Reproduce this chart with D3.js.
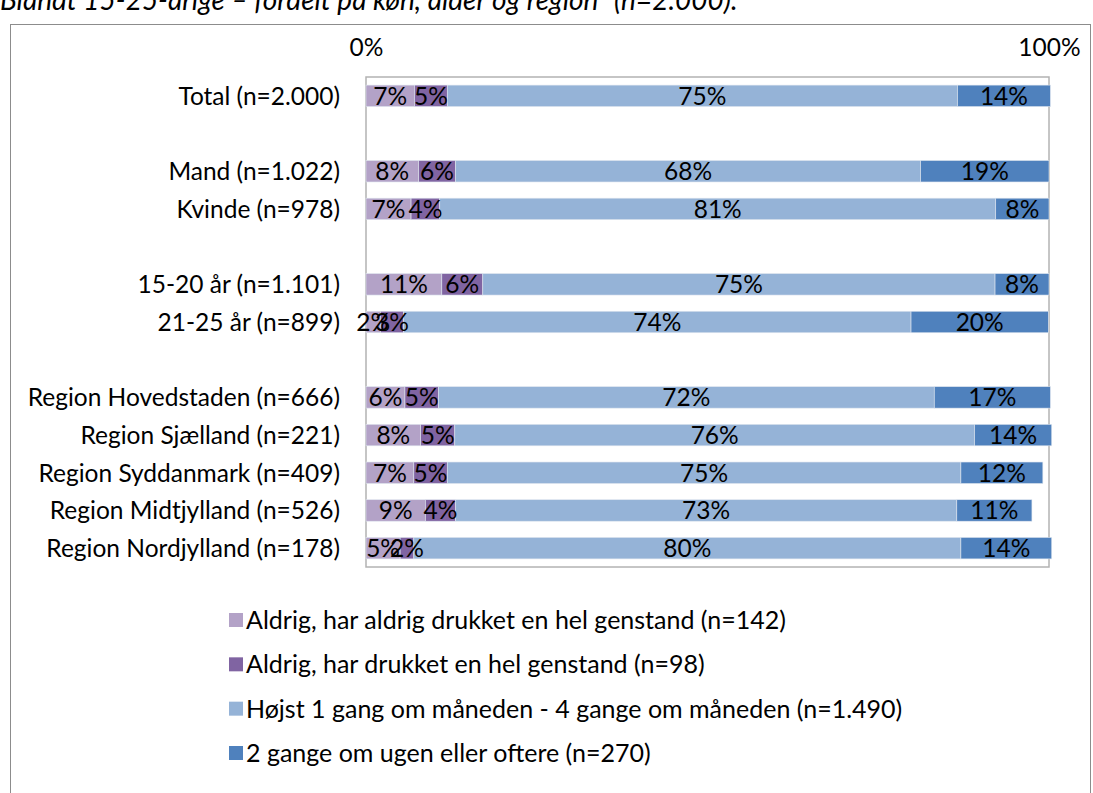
<!DOCTYPE html>
<html>
<head>
<meta charset="utf-8">
<script src="https://cdn.jsdelivr.net/npm/d3@7"></script>
<style>
  html, body { margin: 0; padding: 0; background: #fff; }
  svg { display: block; }
  text { font-family: Lato, "Open Sans", sans-serif; }
</style>
</head>
<body>
<svg id="chart" width="1093" height="793"></svg>
<script>
// ---- data ----
const titleText = "Blandt 15-25-årige – fordelt på køn, alder og region\u201d (n=2.000).";
const categories = ["Total (n=2.000)", "_gap1", "Mand (n=1.022)", "Kvinde (n=978)", "_gap2",
  "15-20 år (n=1.101)", "21-25 år (n=899)", "_gap3",
  "Region Hovedstaden (n=666)", "Region Sjælland (n=221)", "Region Syddanmark (n=409)",
  "Region Midtjylland (n=526)", "Region Nordjylland (n=178)"];
const seriesNames = [
  "Aldrig, har aldrig drukket en hel genstand (n=142)",
  "Aldrig, har drukket en hel genstand (n=98)",
  "Højst 1 gang om måneden - 4 gange om måneden (n=1.490)",
  "2 gange om ugen eller oftere (n=270)"
];
// values in % per category (null = empty row)
const neverNever = [7.1, null, 7.7, 6.6, null, 11.1, 2.1, null, 5.7, 8.0, 7.0, 8.7, 5.0];
const neverDrunk = [4.8, null, 5.4, 4.2, null, 6.0, 3.4, null, 4.9, 5.0, 4.9, 4.4, 2.0];
const monthly    = [74.7, null, 68.1, 81.4, null, 75.0, 74.3, null, 72.6, 76.1, 75.2, 73.4, 80.1];
const weekly     = [13.6, null, 18.8, 7.8, null, 7.9, 20.1, null, 17.0, 11.3, 12.0, 11.0, 13.3];
// data label texts as printed on the bars
const neverNeverLbl = ["7%", null, "8%", "7%", null, "11%", "2%", null, "6%", "8%", "7%", "9%", "5%"];
const neverDrunkLbl = ["5%", null, "6%", "4%", null, "6%", "3%", null, "5%", "5%", "5%", "4%", "2%"];
const monthlyLbl    = ["75%", null, "68%", "81%", null, "75%", "74%", null, "72%", "76%", "75%", "73%", "80%"];
const weeklyLbl     = ["14%", null, "19%", "8%", null, "8%", "20%", null, "17%", "14%", "12%", "11%", "14%"];
const axisTicks = [0, 100];
const colors = ["#B3A2C7", "#8064A2", "#95B3D7", "#4F81BD"];

// ---- drawing ----
const svg = d3.select("#chart");
const fontSize = 24.5;

// outer frame
svg.append("rect").attr("x", 10.5).attr("y", 24.5).attr("width", 1080).attr("height", 800)
  .attr("fill", "none").attr("stroke", "#8c8c8c").attr("stroke-width", 1);

// clipped title
svg.append("text").attr("x", 0).attr("y", 10).attr("font-style", "italic")
  .attr("font-size", 28).attr("fill", "#000").text(titleText);

const plot = {left: 366, right: 1049, top: 77, bottom: 567};
const x = d3.scaleLinear().domain([0, 100]).range([plot.left, plot.right]);
const y = d3.scaleBand().domain(categories).range([plot.top, plot.bottom])
  .paddingInner(0.43).paddingOuter(0.215);

// plot area border
svg.append("rect").attr("x", plot.left).attr("y", plot.top)
  .attr("width", plot.right - plot.left).attr("height", plot.bottom - plot.top)
  .attr("fill", "#fff").attr("stroke", "#b3b3b3").attr("stroke-width", 1.5);

// top axis labels
const axis = d3.axisTop(x).tickValues(axisTicks).tickFormat(d => d + "%").tickSize(0).tickPadding(0);
const ag = svg.append("g").attr("transform", `translate(0,${56})`).call(axis);
ag.select(".domain").remove();
ag.selectAll("text").attr("font-size", fontSize).attr("font-family", "Lato, sans-serif").attr("fill", "#000");

// stacked data
const valueSeries = [neverNever, neverDrunk, monthly, weekly];
const labelSeries = [neverNeverLbl, neverDrunkLbl, monthlyLbl, weeklyLbl];
const rows = categories.map((c, i) => {
  const obj = {cat: c};
  valueSeries.forEach((s, k) => obj["s" + k] = s[i] == null ? 0 : s[i]);
  obj.empty = valueSeries[0][i] == null;
  return obj;
});
const stack = d3.stack().keys(["s0", "s1", "s2", "s3"]);
const stacked = stack(rows.filter(r => !r.empty));

const layers = svg.append("g").selectAll("g").data(stacked).join("g")
  .attr("fill", (d, i) => colors[i]);
layers.selectAll("rect").data(d => d).join("rect")
  .attr("x", d => x(d[0]))
  .attr("y", d => y(d.data.cat))
  .attr("width", d => x(d[1]) - x(d[0]))
  .attr("height", y.bandwidth())
  .attr("stroke", "#dfe6ef").attr("stroke-width", 0.6);

// data labels
stacked.forEach((layer, k) => {
  svg.append("g").selectAll("text").data(layer).join("text")
    .attr("x", d => (x(d[0]) + x(d[1])) / 2)
    .attr("y", d => y(d.data.cat) + y.bandwidth() / 2)
    .attr("dy", "0.36em")
    .attr("text-anchor", "middle")
    .attr("font-size", fontSize)
    .attr("fill", "#000")
    .text(d => labelSeries[k][categories.indexOf(d.data.cat)]);
});

// category labels
svg.append("g").selectAll("text").data(categories.filter(c => !c.startsWith("_"))).join("text")
  .attr("x", 340)
  .attr("y", d => y(d) + y.bandwidth() / 2)
  .attr("dy", "0.36em")
  .attr("text-anchor", "end")
  .attr("font-size", fontSize)
  .attr("fill", "#000")
  .text(d => d);

// legend
const legY = d3.scalePoint().domain(seriesNames).range([620, 753]);
const lg = svg.append("g").selectAll("g").data(seriesNames).join("g")
  .attr("transform", d => `translate(229,${legY(d)})`);
lg.append("rect").attr("x", 0).attr("y", -7).attr("width", 14).attr("height", 14)
  .attr("fill", (d, i) => colors[i]);
lg.append("text").attr("x", 17).attr("dy", "0.36em").attr("font-size", 25)
  .attr("fill", "#000").text(d => d);
</script>
</body>
</html>
